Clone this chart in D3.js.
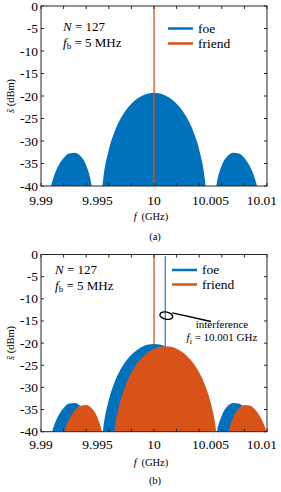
<!DOCTYPE html>
<html><head><meta charset="utf-8">
<script src="https://cdn.jsdelivr.net/npm/d3@7"></script>
<style>
body{margin:0;background:#fff}
svg{display:block}
</style>
</head><body>
<svg id="chart" width="281" height="492" font-family="'Liberation Serif', 'Times New Roman', Times, 'DejaVu Serif', serif"></svg>
<script>
// ---------- data ----------
// frequency grid (GHz) for spectra centred on 10 GHz
const freqCentre10 = [9.99, 9.9905, 9.99075, 9.991, 9.9915, 9.992, 9.9925, 9.993, 9.9935, 9.994, 9.9945, 9.99475, 9.995, 9.99525, 9.9955, 9.996, 9.9965, 9.997, 9.9975, 9.998, 9.9985, 9.999, 9.9995,
  10,
  10.0005, 10.001, 10.0015, 10.002, 10.0025, 10.003, 10.0035, 10.004, 10.0045, 10.00475, 10.005, 10.00525, 10.0055, 10.006, 10.0065, 10.007, 10.0075, 10.008, 10.0085, 10.009, 10.00925, 10.0095, 10.01];
// frequency grid (GHz) for the friend spectrum centred on 10.001 GHz
const freqCentre10001 = [9.991, 9.9915, 9.99175, 9.992, 9.9925, 9.993, 9.9935, 9.994, 9.9945, 9.995, 9.9955, 9.99575, 9.996, 9.99625, 9.9965, 9.997, 9.9975, 9.998, 9.9985, 9.999, 9.9995, 10,
  10.0005, 10.001,
  10.0015, 10.002, 10.0025, 10.003, 10.0035, 10.004, 10.0045, 10.005, 10.0055, 10.00575, 10.006, 10.00625, 10.0065, 10.007, 10.0075, 10.008, 10.0085, 10.009, 10.0095, 10.01, 10.01025, 10.0105, 10.011];

// panel (a): foe spectrum (dBm)
const foeA = [-60, -45.02, -41.45, -38.97, -35.69, -33.76, -32.76, -32.60, -33.36, -35.44, -40.27, -45.78, -60, -44.91, -38.53, -31.92, -27.99, -25.24, -23.22, -21.72, -20.63, -19.88, -19.44,
  -19.3,
  -19.44, -19.88, -20.63, -21.72, -23.22, -25.24, -27.99, -31.92, -38.53, -44.91, -60, -45.78, -40.27, -35.44, -33.36, -32.60, -32.76, -33.76, -35.69, -38.97, -41.45, -45.02, -60];

// panel (b): foe spectrum (dBm), centred on 10 GHz
const foeB = [-60, -45.92, -42.35, -39.87, -36.59, -34.66, -33.66, -33.50, -34.26, -36.34, -41.17, -46.68, -60, -45.81, -39.43, -32.82, -28.89, -26.14, -24.12, -22.62, -21.53, -20.78, -20.34,
  -20.2,
  -20.34, -20.78, -21.53, -22.62, -24.12, -26.14, -28.89, -32.82, -39.43, -45.81, -60, -46.68, -41.17, -36.34, -34.26, -33.50, -33.66, -34.66, -36.59, -39.87, -42.35, -45.92, -60];

// panel (b): friend spectrum (dBm), centred on 10.001 GHz
const friendB = [-60, -46.42, -42.85, -40.37, -37.09, -35.16, -34.16, -34.00, -34.76, -36.84, -41.67, -47.18, -60, -46.31, -39.93, -33.32, -29.39, -26.64, -24.62, -23.12, -22.03, -21.28, -20.84,
  -20.7,
  -20.84, -21.28, -22.03, -23.12, -24.62, -26.64, -29.39, -33.32, -39.93, -46.31, -60, -47.18, -41.67, -36.84, -34.76, -34.00, -34.16, -35.16, -37.09, -40.37, -42.85, -46.42, -60];

// tones (vertical lines): frequency (GHz) and top level (dBm)
const toneFreqA = [10];          // friend tone, panel (a)
const toneTopA = [0];
const toneFreqB = [10, 10.001];  // friend tone, foe interference tone, panel (b)
const toneTopB = [0, -0.4];

const yTickValues = [0, -5, -10, -15, -20, -25, -30, -35, -40];
const yTickLabels = ["0", "-5", "-10", "-15", "-20", "-25", "-30", "-35", "-40"];
const xTickMarks = [9.99, 9.992, 9.994, 9.996, 9.998, 10, 10.002, 10.004, 10.006, 10.008, 10.01];
const xLabelValues = [9.99, 9.995, 10, 10.005, 10.01];
const xTickLabels = ["9.99", "9.995", "10", "10.005", "10.01"];
const legendNames = ["foe", "friend"];
const paramN = "127";
const paramFb = "5 MHz";
const interfLabel = "10.001 GHz";

// ---------- drawing ----------
const BLUE = "#0072BD", ORANGE = "#D95319", AX = "#262626";
const svg = d3.select("#chart");
const yDomain = [-40, 0];
const xDomain = [9.99, 10.01];

function drawPanel(cfg) {
  const x = d3.scaleLinear().domain(xDomain).range([41, 267]);
  const y = d3.scaleLinear().domain(yDomain).range([cfg.bottom, cfg.top]);
  const g = svg.append("g");
  const clipId = "clip" + cfg.id;
  g.append("clipPath").attr("id", clipId).append("rect")
    .attr("x", x.range()[0]).attr("y", cfg.top)
    .attr("width", x.range()[1] - x.range()[0]).attr("height", cfg.bottom - cfg.top);
  const plot = g.append("g").attr("clip-path", `url(#${clipId})`);

  const drawTones = () => {
    cfg.tones.forEach(t => {
      plot.append("line")
        .attr("x1", x(t.f)).attr("x2", x(t.f))
        .attr("y1", y(t.top)).attr("y2", y(-40))
        .attr("stroke", t.color).attr("stroke-width", 1.3);
    });
  };
  if (cfg.tonesUnder) drawTones();
  cfg.series.forEach(s => {
    const pts = s.f.map((f, i) => [f, s.v[i]]);
    const area = d3.area()
      .x(d => x(d[0])).y0(y(-40)).y1(d => y(d[1]))
      .curve(d3.curveMonotoneX);
    plot.append("path").datum(pts).attr("d", area).attr("fill", s.color);
  });
  if (!cfg.tonesUnder) drawTones();

  const [x0, x1] = x.range();
  g.append("rect").attr("x", x0).attr("y", cfg.top).attr("width", x1 - x0).attr("height", cfg.bottom - cfg.top)
    .attr("fill", "none").attr("stroke", AX).attr("stroke-width", 1);
  yTickValues.forEach((v, i) => {
    g.append("line").attr("x1", x0).attr("x2", x0 + 3).attr("y1", y(v)).attr("y2", y(v)).attr("stroke", AX);
    g.append("line").attr("x1", x1).attr("x2", x1 - 3).attr("y1", y(v)).attr("y2", y(v)).attr("stroke", AX);
    g.append("text").attr("x", x0 - 3).attr("y", y(v) + 4.5).attr("text-anchor", "end")
      .attr("font-size", 13.5).text(yTickLabels[i]);
  });
  xTickMarks.forEach(v => {
    g.append("line").attr("x1", x(v)).attr("x2", x(v)).attr("y1", cfg.top).attr("y2", cfg.top + 3).attr("stroke", AX);
    g.append("line").attr("x1", x(v)).attr("x2", x(v)).attr("y1", cfg.bottom).attr("y2", cfg.bottom - 3).attr("stroke", AX);
  });
  xLabelValues.forEach((v, i) => {
    const last = i === xLabelValues.length - 1;
    g.append("text").attr("x", last ? 277 : x(v)).attr("y", cfg.bottom + cfg.tickLabelGap)
      .attr("text-anchor", last ? "end" : "middle")
      .attr("font-size", 13.5).text(xTickLabels[i]);
  });

  const xl = g.append("text").attr("x", 151).attr("y", cfg.xLabelY).attr("text-anchor", "middle").attr("font-size", 10.5);
  xl.append("tspan").attr("font-style", "italic").text("f");
  xl.append("tspan").text("\u2009 (GHz)");
  const yl = g.append("text").attr("transform", `translate(14,${cfg.yLabelMid}) rotate(-90)`)
    .attr("text-anchor", "middle").attr("font-size", 10.5);
  yl.append("tspan").attr("font-style", "italic").text("s\u0304");
  yl.append("tspan").text(" (dBm)");
  g.append("text").attr("x", 155).attr("y", cfg.captionY).attr("text-anchor", "middle").attr("font-size", 10.5).text(cfg.caption);

  const t1 = g.append("text").attr("x", cfg.paramX).attr("y", cfg.paramY).attr("font-size", 13);
  t1.append("tspan").attr("font-style", "italic").text("N");
  t1.append("tspan").text(" = " + paramN);
  const t2 = g.append("text").attr("x", cfg.paramX).attr("y", cfg.paramY + 15.5).attr("font-size", 13);
  t2.append("tspan").attr("font-style", "italic").text("f");
  t2.append("tspan").attr("font-size", 9).attr("dy", 2.5).text("b");
  t2.append("tspan").attr("dy", -2.5).text(" = " + paramFb);

  const lcol = [BLUE, ORANGE];
  legendNames.forEach((n, i) => {
    const ly = cfg.legendY + i * cfg.legendStep;
    g.append("line").attr("x1", cfg.legendX).attr("x2", cfg.legendX + 25).attr("y1", ly).attr("y2", ly)
      .attr("stroke", lcol[i]).attr("stroke-width", cfg.legendW);
    g.append("text").attr("x", cfg.legendX + 30).attr("y", ly + 4).attr("font-size", 13.5).text(n);
  });
  return {x, y, g};
}

drawPanel({
  id: "a", top: 6, bottom: 186, tickLabelGap: 18.5, xLabelY: 220, captionY: 240, caption: "(a)",
  yLabelMid: 96, paramX: 63, paramY: 31, legendX: 168, legendY: 28.5, legendStep: 15, legendW: 2.5,
  tonesUnder: false,
  series: [{f: freqCentre10, v: foeA, color: BLUE}],
  tones: [{f: toneFreqA[0], top: toneTopA[0], color: ORANGE}]
});

const pb = drawPanel({
  id: "b", top: 254.5, bottom: 431.7, tickLabelGap: 17.5, xLabelY: 466, captionY: 484, caption: "(b)",
  yLabelMid: 343, paramX: 55, paramY: 274, legendX: 172, legendY: 270, legendStep: 14.5, legendW: 2.5,
  tonesUnder: true,
  series: [{f: freqCentre10, v: foeB, color: BLUE}, {f: freqCentre10001, v: friendB, color: ORANGE}],
  tones: [{f: toneFreqB[0], top: toneTopB[0], color: ORANGE}, {f: toneFreqB[1], top: toneTopB[1], color: "#1f86d0"}]
});

// interference annotation (panel b)
{
  const {x, y, g} = pb;
  const cx = x(toneFreqB[1]) + 1, cy = y(-13.8);
  g.append("ellipse").attr("cx", cx).attr("cy", cy).attr("rx", 6.5).attr("ry", 3.6)
    .attr("transform", `rotate(12,${cx},${cy})`)
    .attr("fill", "none").attr("stroke", "#000").attr("stroke-width", 1.4);
  g.append("line").attr("x1", cx + 6).attr("y1", cy - 2.8).attr("x2", 211).attr("y2", 321.5)
    .attr("stroke", "#000").attr("stroke-width", 1.4);
  g.append("text").attr("x", 222).attr("y", 328).attr("text-anchor", "middle").attr("font-size", 11).text("interference");
  const t = g.append("text").attr("x", 222).attr("y", 341).attr("text-anchor", "middle").attr("font-size", 11);
  t.append("tspan").attr("font-style", "italic").text("f");
  t.append("tspan").attr("font-size", 8).attr("dy", 2.5).text("i");
  t.append("tspan").attr("dy", -2.5).text(" = " + interfLabel);
}
</script>
</body></html>
